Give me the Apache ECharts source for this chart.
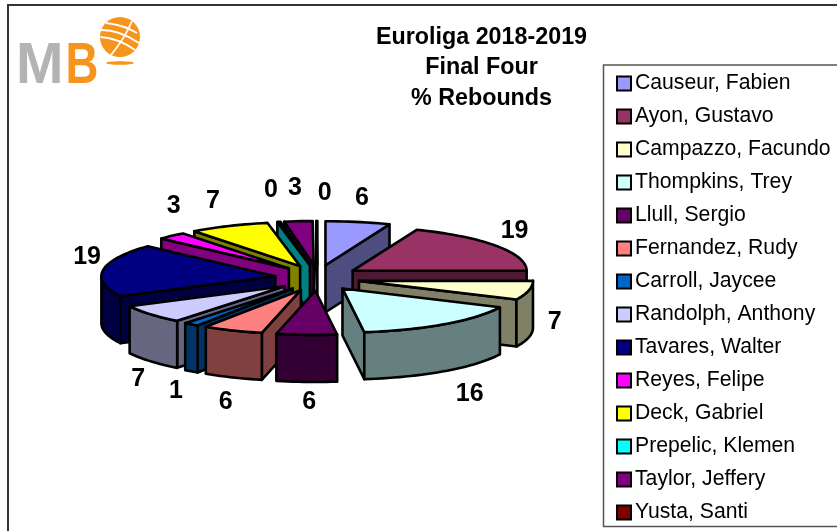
<!DOCTYPE html>
<html><head><meta charset="utf-8">
<style>html,body{margin:0;padding:0;background:#fff}#c{width:837px;height:531px}</style>
<script src="https://cdn.jsdelivr.net/npm/echarts@6/dist/echarts.min.js"></script>
</head><body><div id="c"></div>
<script>
const titleLines = ['Euroliga 2018-2019', 'Final Four', '% Rebounds'];
const players = ['Causeur, Fabien','Ayon, Gustavo','Campazzo, Facundo','Thompkins, Trey','Llull, Sergio','Fernandez, Rudy','Carroll, Jaycee','Randolph, Anthony','Tavares, Walter','Reyes, Felipe','Deck, Gabriel','Prepelic, Klemen','Taylor, Jeffery','Yusta, Santi'];
const rebounds = [6, 19, 7, 16, 5.6, 5.6, 1.4, 6.9, 19.4, 2.7, 7.4, 0.3, 2.6, 0.1];
const topColors = ['#9999FF','#993366','#FFFFCC','#CCFFFF','#660066','#FF8080','#0066CC','#CCCCFF','#000080','#FF00FF','#FFFF00','#00FFFF','#800080','#800000'];
const sideColors = ['#4D4D80','#4D1A33','#808066','#668080','#330033','#804040','#003366','#666680','#000040','#800080','#808000','#008080','#400040','#400000'];
// label offsets from the slice's rim midpoint
const labelNudges = [[4,-24],[18,-15],[26,32],[25,70],[2.5,67],[-7,71.5],[-15.5,66.6],[-12,65],[-16,-13],[2,-30],[-16,-25],[-8,-32],[-3.6,-33],[8,-28]];

const PIE = {cx:317.5, cy:278, rx:174, ry:44, ex:42.5, ey:13, depth:47};
const total = rebounds.reduce((a,b)=>a+b,0);
const rad = d => d*Math.PI/180;
let run = 0;
const slices = rebounds.map((v,i)=>{
  const a1 = run/total*360; run += v; const a2 = run/total*360; const m = (a1+a2)/2;
  return {i, a1, a2, m,
    ax: PIE.cx + PIE.ex*Math.sin(rad(m)),
    ay: PIE.cy - PIE.ey*Math.cos(rad(m))};
});
function rim(s, deg, dz){
  return [s.ax + PIE.rx*Math.sin(rad(deg)), s.ay - PIE.ry*Math.cos(rad(deg)) + (dz||0)];
}
function arcPts(s, a, b, dz){
  const n = Math.max(2, Math.ceil((b-a)/2)), out=[];
  for(let k=0;k<=n;k++) out.push(rim(s, a+(b-a)*k/n, dz));
  return out;
}
const edge = {stroke:'#000', lineWidth:2.6, lineJoin:'round'};
function renderSlice(idx){
  return function(params, api){
    const s = slices[idx], kids=[], side={fill:sideColors[idx], ...edge};
    const wall = deg => ({type:'polygon', shape:{points:[[s.ax,s.ay],rim(s,deg),rim(s,deg,PIE.depth),[s.ax,s.ay+PIE.depth]]}, style:side});
    if(Math.sin(rad(s.a1))<0) kids.push(wall(s.a1));
    if(Math.sin(rad(s.a2))>0) kids.push(wall(s.a2));
    const f1=Math.max(s.a1,90), f2=Math.min(s.a2,270);
    if(f2>f1){
      kids.push({type:'polygon', shape:{points:arcPts(s,f1,f2,0).concat(arcPts(s,f1,f2,PIE.depth).reverse())}, style:side});
    }
    kids.push({type:'polygon', shape:{points:[[s.ax,s.ay]].concat(arcPts(s,s.a1,s.a2,0))}, style:{fill:topColors[idx], ...edge}});
    const lp = rim(s,s.m);
    kids.push({type:'text', z2:50, style:{text:String(Math.round(api.value(0))), x:lp[0]+labelNudges[idx][0], y:lp[1]+labelNudges[idx][1],
      font:'bold 25px "Liberation Sans", Arial, sans-serif', fill:'#000', align:'center', verticalAlign:'middle'}});
    return {type:'group', children:kids};
  };
}
const order = slices.slice().sort((p,q)=>p.ay-q.ay).map(s=>s.i);
const series = order.map(i=>({
  type:'custom', name:players[i], coordinateSystem:'none', silent:true, clip:false,
  itemStyle:{color:topColors[i]}, data:[[rebounds[i]]], renderItem:renderSlice(i)
}));
const chart = echarts.init(document.getElementById('c'), null, {renderer:'canvas'});
const white='#fff', orange='#F7941E';
const stripe=(x1,y1,cpx,cpy,x2,y2)=>({type:'bezierCurve',z:2,shape:{x1,y1,x2,y2,cpx1:cpx,cpy1:cpy},style:{stroke:white,lineWidth:1.8,fill:null}});
chart.setOption({
  animation:false, backgroundColor:'#fff',
  title:{text:titleLines.join('\n'), left:476.5, top:17, textAlign:'center',
    textStyle:{fontFamily:'"Liberation Sans", Arial, sans-serif', fontWeight:'bold', fontSize:23.3, lineHeight:30.5, color:'#000'}},
  legend:{orient:'vertical', left:616, top:73, padding:0, itemWidth:14, itemHeight:14, itemGap:12, selectedMode:false,
    icon:'rect', data:players, itemStyle:{borderColor:'#000', borderWidth:2},
    textStyle:{fontFamily:'"Liberation Sans", Arial, sans-serif', fontSize:21.2, color:'#000', padding:[0,0,0,-1], lineHeight:19}},
  graphic:[
    {type:'polyline', z:0, shape:{points:[[8,531],[8,5],[837,5]]}, style:{stroke:'#333', lineWidth:2, fill:null}},
    {type:'rect', z:0, shape:{x:603.5,y:65,width:260,height:461.5}, style:{fill:'#fff', stroke:'#555', lineWidth:1.5}},
    {type:'text', z:1, x:16, y:67, style:{text:'M', font:'bold 57px "Liberation Sans", Arial, sans-serif', fill:'#B3B3B3', verticalAlign:'middle'}},
    {type:'text', z:1, x:65.5, y:67, scaleX:0.8, style:{text:'B', font:'bold 57px "Liberation Sans", Arial, sans-serif', fill:orange, verticalAlign:'middle'}},
    {type:'circle', z:1, shape:{cx:120,cy:37,r:20}, style:{fill:orange}},
    stripe(101,30,120,30,139,43), stripe(100.5,37,118,38,135,50), stripe(106,23,124,25,137,33),
    stripe(132,21,125,38,111,55),
    {type:'ellipse', z:1, shape:{cx:120,cy:63,rx:14,ry:1.8}, style:{fill:orange}}
  ],
  series
});
</script></body></html>
